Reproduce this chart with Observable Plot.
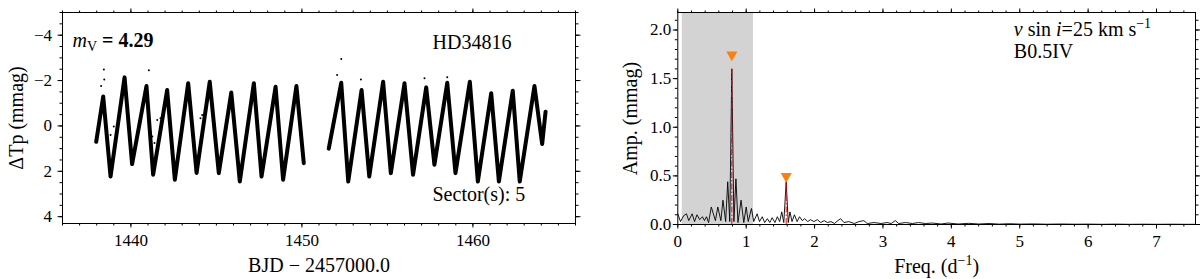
<!DOCTYPE html>
<html><head><meta charset="utf-8">
<script src="https://cdn.jsdelivr.net/npm/d3@7"></script>
<script src="https://cdn.jsdelivr.net/npm/@observablehq/plot@0.6"></script>
<style>
html,body{margin:0;padding:0;background:#fff;}
#wrap{position:relative;width:1200px;height:279px;overflow:hidden;background:#fff;}
#left,#right{position:absolute;top:0;}
#left{left:0;} #right{left:600px;}
</style></head><body><div id="wrap"><div id="left"></div><div id="right"></div></div>
<script>
// ---------- Light curve (left panel) ----------
const lcTime1 = [1437.97, 1438.38, 1438.81, 1439.63, 1440.07, 1440.91, 1441.30, 1442.12, 1442.57, 1443.35, 1443.84, 1444.61, 1445.14, 1445.87, 1446.37, 1447.19, 1447.64, 1448.46, 1448.90, 1449.68, 1450.11];
const lcMag1  = [0.70, -1.30, 2.23, -2.14, 1.68, -1.76, 2.15, -1.58, 2.37, -1.88, 2.07, -1.95, 2.08, -1.47, 2.45, -1.88, 2.23, -1.73, 2.37, -1.76, 1.64];
const lcTime2 = [1451.57, 1452.30, 1452.71, 1453.49, 1453.94, 1454.75, 1455.20, 1456.00, 1456.50, 1457.27, 1457.75, 1458.50, 1458.98, 1459.82, 1460.29, 1461.07, 1461.52, 1462.33, 1462.74, 1463.60, 1464.05, 1464.25];
const lcMag2  = [1.00, -1.90, 2.45, -1.58, 2.23, -1.95, 2.08, -1.88, 2.15, -1.70, 1.71, -1.90, 2.08, -1.95, 2.45, -1.44, 2.45, -1.55, 2.45, -1.76, 0.80, -0.63];
const outTime = [1438.26, 1438.42, 1438.44, 1441.05, 1438.81, 1439.00, 1441.05, 1441.25, 1441.38, 1441.54, 1441.73, 1444.07, 1444.17, 1452.06, 1452.30, 1453.45, 1457.17, 1458.50];
const outMag  = [-1.76, -2.49, -2.05, -2.46, 0.40, 0.03, 0.03, 0.47, 0.75, -0.26, -0.34, -0.34, -0.48, -2.24, -2.95, -2.05, -2.10, -2.15];
const lcXTicks = [1440, 1450, 1460];
const lcXMinor = d3.range(1436, 1467, 1);
const lcYTicks = [-4, -2, 0, 2, 4];
const lcYMinor = d3.range(-5, 4.01, 0.5);

// ---------- Periodogram (right panel) ----------
const pgFreq = [0.00,0.04,0.085,0.127,0.16,0.21,0.245,0.28,0.32,0.36,0.39,0.42,0.45,0.49,0.55,0.585,0.63,0.66,0.70,0.73,0.76,0.79,0.82,0.85,0.88,0.925,0.965,1.00,1.03,1.077,1.11,1.16,1.195,1.235,1.27,1.31,1.345,1.38,1.42,1.456,1.49,1.52,1.55,1.585,1.615,1.64,1.67,1.705,1.745,1.78,1.82,1.855,1.90,1.94,1.99,2.04,2.09,2.14,2.19,2.24,2.29,2.34,2.38,2.43,2.50,2.58,2.65,2.72,2.77,2.87,2.97,3.06,3.12,3.18,3.23,3.33,3.43,3.52,3.62,3.72,3.85,3.95,4.10,4.25,4.40,4.55,4.70,4.85,5.00,5.20,5.40,5.60,5.80,6.00,6.20,6.40,6.60,6.80,7.00,7.20,7.40,7.57];
const pgAmp  = [0.11,0.03,0.09,0.11,0.04,0.11,0.03,0.10,0.05,0.08,0.04,0.08,0.02,0.18,0.04,0.18,0.04,0.25,0.03,0.44,0.03,1.60,0.03,0.47,0.02,0.25,0.02,0.18,0.03,0.165,0.03,0.11,0.03,0.08,0.02,0.06,0.02,0.07,0.02,0.08,0.03,0.13,0.02,0.44,0.02,0.13,0.03,0.10,0.03,0.08,0.04,0.06,0.03,0.05,0.03,0.05,0.02,0.04,0.02,0.03,0.01,0.04,0.06,0.02,0.03,0.01,0.03,0.04,0.01,0.02,0.01,0.02,0.01,0.04,0.01,0.02,0.01,0.02,0.01,0.015,0.005,0.015,0.005,0.012,0.005,0.01,0.004,0.008,0.004,0.006,0.003,0.005,0.003,0.004,0.002,0.004,0.002,0.003,0.002,0.003,0.002,0.002];
const peakFreq = [0.79, 1.585];
const peakAmp  = [1.60, 0.44];
const markerAmp = [1.73, 0.48];
const bandLimits = [0.065, 1.107];
const pgXTicks = [0, 1, 2, 3, 4, 5, 6, 7];
const pgXMinor = d3.range(0, 7.57, 0.2);
const pgYTicks = [0, 0.5, 1.0, 1.5, 2.0];
const pgYMinor = d3.range(0, 2.18, 0.1);

const FONT = "'Liberation Serif', 'DejaVu Serif', serif";
const MAJ = 4.5, MIN = 2.5, TICKFS = 17;
const tickText = {fontFamily: FONT, fontSize: TICKFS};

const seg1 = lcTime1.map((t, i) => ({t, m: lcMag1[i]}));
const seg2 = lcTime2.map((t, i) => ({t, m: lcMag2[i]}));
const outl = outTime.map((t, i) => ({t, m: outMag[i]}));

const left = Plot.plot({
  width: 600, height: 279,
  marginLeft: 62, marginRight: 25, marginTop: 12, marginBottom: 56,
  style: {fontFamily: FONT, fontSize: TICKFS + "px", background: "white", color: "black"},
  x: {domain: [1436, 1466]},
  y: {domain: [4.3, -5]},
  marks: [
    Plot.line(seg1, {x: "t", y: "m", stroke: "black", strokeWidth: 4, strokeLinejoin: "round"}),
    Plot.line(seg2, {x: "t", y: "m", stroke: "black", strokeWidth: 4, strokeLinejoin: "round"}),
    Plot.dot(outl, {x: "t", y: "m", r: 1, fill: "black", stroke: "none"}),
    Plot.frame({stroke: "black", strokeWidth: 1}),
    Plot.axisX({ticks: lcXTicks, tickSize: MAJ, tickPadding: 6, tickFormat: d => String(d), label: null, ...tickText}),
    Plot.axisX({ticks: lcXMinor, tickSize: MIN, fill: "none", label: null}),
    Plot.axisX({anchor: "top", ticks: lcXTicks, tickSize: MAJ, fill: "none", label: null}),
    Plot.axisX({anchor: "top", ticks: lcXMinor, tickSize: MIN, fill: "none", label: null}),
    Plot.axisY({ticks: lcYTicks, tickSize: MAJ, tickPadding: 6, tickFormat: d3.format("d"), label: null, ...tickText}),
    Plot.axisY({ticks: lcYMinor, tickSize: MIN, fill: "none", label: null}),
    Plot.axisY({anchor: "right", ticks: lcYTicks, tickSize: MAJ, fill: "none", label: null}),
    Plot.axisY({anchor: "right", ticks: lcYMinor, tickSize: MIN, fill: "none", label: null}),
    Plot.text(["ΔTp (mmag)"], {frameAnchor: "left", rotate: -90, dx: -46, fontSize: 20, fontFamily: FONT, textAnchor: "middle"}),
    Plot.text(["BJD − 2457000.0"], {frameAnchor: "bottom", dy: 48, fontSize: 20, fontFamily: FONT, textAnchor: "middle", lineAnchor: "bottom"}),
    Plot.text(["@MV@"], {frameAnchor: "top-left", dx: 10, dy: 34, fontSize: 20, fontFamily: FONT, textAnchor: "start", lineAnchor: "bottom"}),
    Plot.text(["HD34816"], {frameAnchor: "top-left", dx: 370, dy: 36, fontSize: 20, fontFamily: FONT, textAnchor: "start", lineAnchor: "bottom"}),
    Plot.text(["Sector(s): 5"], {frameAnchor: "bottom-left", dx: 370, dy: -23, fontSize: 20, fontFamily: FONT, textAnchor: "start", lineAnchor: "bottom"})
  ]
});

const pg = pgFreq.map((f, i) => ({f, a: pgAmp[i]}));
const peaks = peakFreq.map((f, i) => ({f, a: peakAmp[i], m: markerAmp[i]}));
const downTriangle = {
  draw(context, size) {
    const s = Math.sqrt(size);
    const w = 0.62 * s, h = 0.55 * s;
    context.moveTo(-w, -h);
    context.lineTo(w, -h);
    context.lineTo(0, h);
    context.closePath();
  }
};

const right = Plot.plot({
  width: 600, height: 279,
  marginLeft: 77.3, marginRight: 5, marginTop: 12, marginBottom: 55,
  style: {fontFamily: FONT, fontSize: TICKFS + "px", background: "white", color: "black"},
  x: {domain: [0, 7.57]},
  y: {domain: [0, 2.18]},
  marks: [
    Plot.rect([bandLimits], {x1: d => d[0], x2: d => d[1], fill: "#d3d3d3"}),
    Plot.line(pg, {x: "f", y: "a", stroke: "black", strokeWidth: 0.9}),
    Plot.ruleX(peaks, {x: "f", y1: 0, y2: "a", stroke: "#ff0000", strokeWidth: 1, strokeDasharray: "6,2,1.5,2"}),
    Plot.dot(peaks, {x: "f", y: "m", r: 5, symbol: downTriangle, fill: "#ff7f0e", stroke: "none"}),
    Plot.frame({stroke: "black", strokeWidth: 1}),
    Plot.axisX({ticks: pgXTicks, tickSize: MAJ, tickPadding: 6, tickFormat: d => String(d), label: null, ...tickText}),
    Plot.axisX({ticks: pgXMinor, tickSize: MIN, fill: "none", label: null}),
    Plot.axisX({anchor: "top", ticks: pgXTicks, tickSize: MAJ, fill: "none", label: null}),
    Plot.axisX({anchor: "top", ticks: pgXMinor, tickSize: MIN, fill: "none", label: null}),
    Plot.axisY({ticks: pgYTicks, tickSize: MAJ, tickPadding: 2, tickFormat: d3.format(".1f"), label: null, ...tickText}),
    Plot.axisY({ticks: pgYMinor, tickSize: MIN, fill: "none", label: null}),
    Plot.axisY({anchor: "right", ticks: pgYTicks, tickSize: MAJ, fill: "none", label: null}),
    Plot.axisY({anchor: "right", ticks: pgYMinor, tickSize: MIN, fill: "none", label: null}),
    Plot.text(["Amp. (mmag)"], {frameAnchor: "left", rotate: -90, dx: -47, fontSize: 20, fontFamily: FONT, textAnchor: "middle"}),
    Plot.text(["@FREQ@"], {frameAnchor: "bottom", dy: 48, fontSize: 20, fontFamily: FONT, textAnchor: "middle", lineAnchor: "bottom"}),
    Plot.text(["@VSINI@"], {frameAnchor: "top-left", dx: 336, dy: 23, fontSize: 20, fontFamily: FONT, textAnchor: "start", lineAnchor: "bottom"}),
    Plot.text(["B0.5IV"], {frameAnchor: "top-left", dx: 336, dy: 45, fontSize: 20, fontFamily: FONT, textAnchor: "start", lineAnchor: "bottom"})
  ]
});

document.getElementById("left").appendChild(left);
document.getElementById("right").appendChild(right);

// make sure every tick label uses the serif family and tick size
for (const svg of [left, right]) {
  svg.querySelectorAll("text").forEach(t => {
    const fs = parseFloat(getComputedStyle(t).fontSize);
    if (fs < 19) {
      t.setAttribute("font-size", TICKFS);
      t.style.fontSize = TICKFS + "px";
    }
    t.style.fontFamily = FONT;
  });
}

function rich(svg, key, parts, fs) {
  svg.querySelectorAll("text").forEach(t => {
    if (t.textContent !== key) return;
    while (t.firstChild) t.removeChild(t.firstChild);
    let shift = 0;
    for (const p of parts) {
      const ts = document.createElementNS("http://www.w3.org/2000/svg", "tspan");
      ts.textContent = p.t;
      const target = p.sub ? fs * 0.22 : p.sup ? -fs * 0.38 : 0;
      if (target !== shift) { ts.setAttribute("dy", target - shift); shift = target; }
      if (p.sub || p.sup) ts.setAttribute("font-size", fs * 0.7);
      if (p.i) ts.setAttribute("font-style", "italic");
      if (p.b) ts.setAttribute("font-weight", "bold");
      t.appendChild(ts);
    }
  });
}
rich(left, "@MV@", [{t: "m", i: true}, {t: "V", sub: true}, {t: " = 4.29", b: true}], 20);
rich(right, "@FREQ@", [{t: "Freq. (d"}, {t: "−1", sup: true}, {t: ")"}], 20);
rich(right, "@VSINI@", [{t: "v", i: true}, {t: " sin "}, {t: "i", i: true}, {t: "=25 km s"}, {t: "−1", sup: true}], 20);
</script></body></html>
